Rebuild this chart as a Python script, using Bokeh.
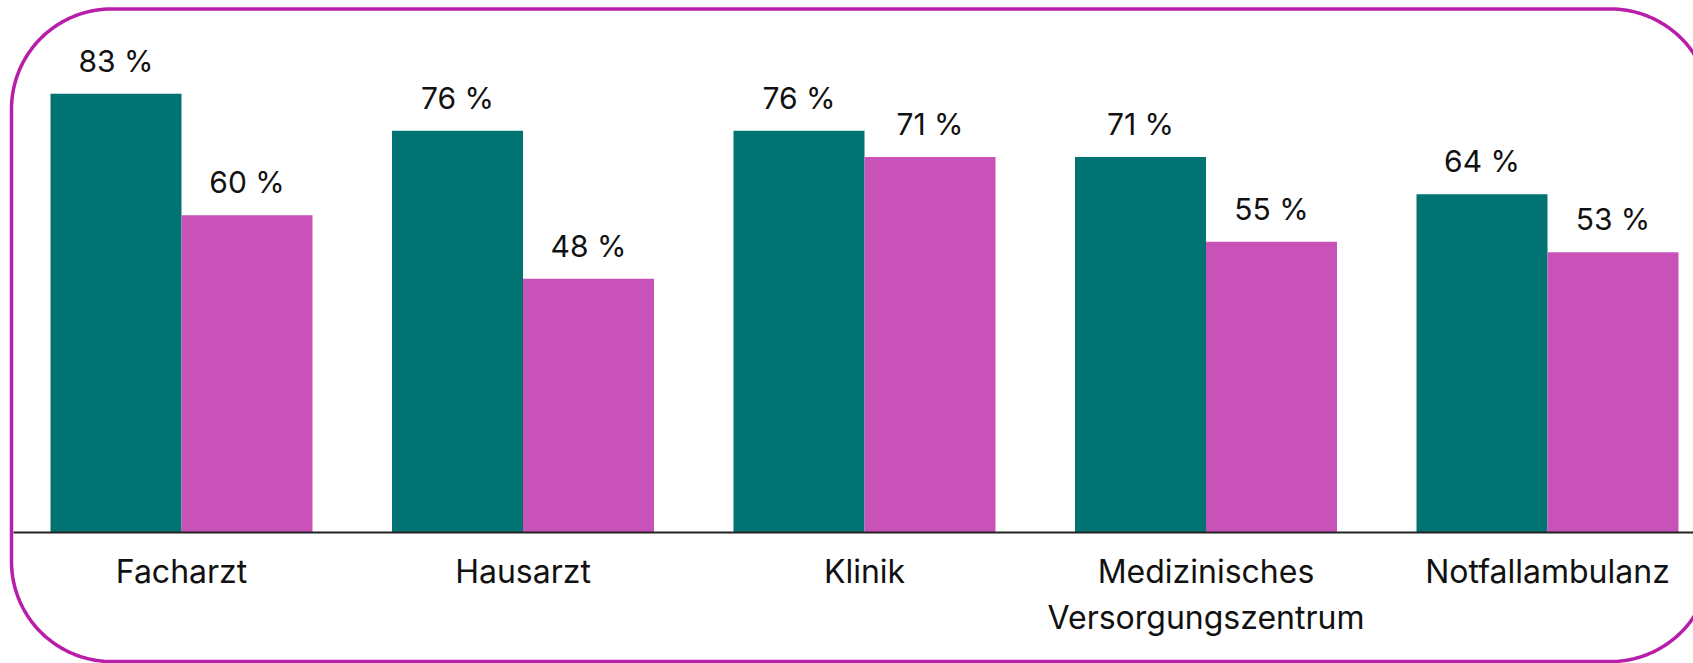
import numpy as np
from bokeh.plotting import figure
from bokeh.models import Range1d, FixedTicker, ColumnDataSource
from bokeh.core.properties import value
from bokeh.embed import file_html
from bokeh.resources import INLINE

categories = ["Facharzt", "Hausarzt", "Klinik", "Medizinisches\nVersorgungszentrum", "Notfallambulanz"]
series_a = [83, 76, 76, 71, 64]   # teal
series_b = [60, 48, 71, 55, 53]   # pink

TEAL = "#027373"
PINK = "#C952B8"
BORDER = "#B81EA9"
FONT = "Inter"

W, H = 1693, 663
UNIT = 341.5          # px per category
PX_PER_PCT = 5.287
BASE_Y = 532          # canvas y of the zero line
FIRST_CENTER = 181    # canvas x of the first category centre
BAR_W = 131 / UNIT

x_start = -FIRST_CENTER / UNIT
x_end = x_start + W / UNIT
y_start = -(H - BASE_Y) / PX_PER_PCT
y_end = BASE_Y / PX_PER_PCT

p = figure(width=W, height=H, output_backend="svg", toolbar_location=None,
           x_range=Range1d(x_start, x_end), y_range=Range1d(y_start, y_end),
           min_border=0, y_axis_location=None)
p.outline_line_color = None
p.grid.visible = False
p.background_fill_color = "white"
p.border_fill_color = "white"

xs = list(range(len(categories)))
src = ColumnDataSource(dict(
    x=xs,
    xa=[x - BAR_W / 2 for x in xs],
    xb=[x + BAR_W / 2 for x in xs],
    a=series_a, b=series_b,
    la=[f"{v} %" for v in series_a],
    lb=[f"{v} %" for v in series_b],
))

p.vbar(x="xa", top="a", bottom=0, width=BAR_W, source=src, fill_color=TEAL, line_color=None)
p.vbar(x="xb", top="b", bottom=0, width=BAR_W, source=src, fill_color=PINK, line_color=None)

for xcol, ycol, lcol in (("xa", "a", "la"), ("xb", "b", "lb")):
    p.text(x=xcol, y=ycol, text=lcol, source=src, text_align="center",
           text_baseline="alphabetic", y_offset=-33, text_font=value(FONT),
           text_font_size="30px", text_color="#111111")

ax = p.xaxis[0]
ax.fixed_location = 0
ax.bounds = (x_start + 13 / UNIT, x_end)
ax.ticker = FixedTicker(ticks=xs)
ax.major_label_overrides = {i: c for i, c in enumerate(categories)}
ax.major_tick_line_color = None
ax.minor_tick_line_color = None
ax.major_tick_out = 0
ax.major_tick_in = 0
ax.axis_line_color = "#222222"
ax.axis_line_width = 2
ax.major_label_standoff = 19
ax.major_label_text_font = FONT
ax.major_label_text_font_size = "32px"
ax.major_label_text_color = "#111111"

# decorative rounded frame: left/top/bottom inside the window, right side beyond it
L, T, R, B, RAD = 11, 8.5, 1710, 661, 100
def arc(cx, cy, a0, a1, n=40):
    t = np.linspace(np.radians(a0), np.radians(a1), n)
    return cx + RAD * np.cos(t), cy - RAD * np.sin(t)
# open path: top-right arc -> top edge -> left side -> bottom edge -> bottom-right arc
segs = [arc(R - RAD, T + RAD, 0, 90), arc(L + RAD, T + RAD, 90, 180),
        arc(L + RAD, B - RAD, 180, 270), arc(R - RAD, B - RAD, 270, 360)]
px = np.concatenate([s[0] for s in segs])
py = np.concatenate([s[1] for s in segs])
keep = px <= W + 4
p.line(x=x_start + px[keep] / UNIT, y=(BASE_Y - py[keep]) / PX_PER_PCT,
       line_color=BORDER, line_width=3.5, level="overlay")

open("out.html", "w").write(file_html(p, INLINE))
